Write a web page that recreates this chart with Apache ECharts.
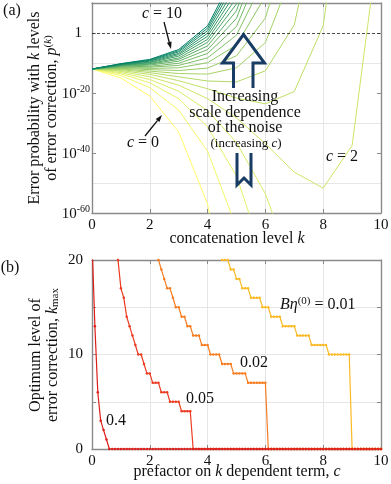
<!DOCTYPE html>
<html>
<head>
<meta charset="utf-8">
<script src="https://cdn.jsdelivr.net/npm/echarts/dist/echarts.min.js"></script>
<style>
  html, body { margin: 0; padding: 0; background: #fff; }
  #chart { width: 391px; height: 484px; }
</style>
</head>
<body>
<div id="chart"></div>
<script>
// ---- panel (a): log10 of error probability p^(k) per concatenation level k ----
var kLevels = [0, 1, 2, 3, 4, 5, 6, 7, 8, 9, 10];
var cCurves = [0, 0.5, 1, 1.5, 2, 2.5, 3, 3.5, 4, 4.5, 5, 5.5, 6, 6.5, 7, 7.5, 8, 8.5, 9, 9.5, 10];
var logErr = [
  [-12, -15, -21, -33, -57, -105],
  [-12, -14.2, -18.2, -25.7, -39.4, -64.9],
  [-12, -13.6, -16.6, -21.9, -31.3, -47.7, -76.5],
  [-12, -13.2, -15.5, -19.4, -25.9, -36.5, -53.6, -80.4],
  [-12, -12.8, -14.6, -17.4, -21.9, -28.3, -36.9, -46.4, -51.7, -37.5, 36.6],
  [-12, -12.5, -13.8, -15.9, -18.6, -21.7, -23.6, -19.5, 2.4, 71.4],
  [-12, -12.2, -13.2, -14.6, -16.0, -16.3, -12.6, 2.7, 47.0],
  [-12, -12.0, -12.7, -13.5, -13.7, -11.6, -3.2, 21.6],
  [-12, -11.8, -12.2, -12.5, -11.7, -7.6, 5.0, 38.0],
  [-12, -11.6, -11.8, -11.6, -9.9, -4.0, 12.3],
  [-12, -11.4, -11.4, -10.8, -8.3, -0.7, 18.8],
  [-12, -11.3, -11.1, -10.1, -6.8, 2.2, 24.7],
  [-12, -11.1, -10.7, -9.4, -5.5, 4.9, 30.1],
  [-12, -11.0, -10.4, -8.8, -4.3, 7.4, 35.1],
  [-12, -10.8, -10.2, -8.3, -3.1, 9.7, 39.7],
  [-12, -10.7, -9.9, -7.7, -2.1, 11.8],
  [-12, -10.6, -9.7, -7.2, -1.1, 13.8],
  [-12, -10.5, -9.4, -6.8, -0.1, 15.7],
  [-12, -10.4, -9.2, -6.3, 0.8, 17.5],
  [-12, -10.3, -9.0, -5.9, 1.6, 19.2],
  [-12, -10.2, -8.8, -5.5, 2.4, 20.8]
];
var yTicksA = [0, -20, -40, -60];

// ---- panel (b): optimum level k_max against prefactor c ----
var cGrid = [
  0.0, 0.1, 0.2, 0.3, 0.4, 0.5, 0.6, 0.7, 0.8, 0.9,
  1.0, 1.1, 1.2, 1.3, 1.4, 1.5, 1.6, 1.7, 1.8, 1.9,
  2.0, 2.1, 2.2, 2.3, 2.4, 2.5, 2.6, 2.7, 2.8, 2.9,
  3.0, 3.1, 3.2, 3.3, 3.4, 3.5, 3.6, 3.7, 3.8, 3.9,
  4.0, 4.1, 4.2, 4.3, 4.4, 4.5, 4.6, 4.7, 4.8, 4.9,
  5.0, 5.1, 5.2, 5.3, 5.4, 5.5, 5.6, 5.7, 5.8, 5.9,
  6.0, 6.1, 6.2, 6.3, 6.4, 6.5, 6.6, 6.7, 6.8, 6.9,
  7.0, 7.1, 7.2, 7.3, 7.4, 7.5, 7.6, 7.7, 7.8, 7.9,
  8.0, 8.1, 8.2, 8.3, 8.4, 8.5, 8.6, 8.7, 8.8, 8.9,
  9.0, 9.1, 9.2, 9.3, 9.4, 9.5, 9.6, 9.7, 9.8, 9.9,
  10.0
];
var kmax04 = [
  22, 13, 6, 3, 2, 1, 0, 0, 0, 0,
  0, 0, 0, 0, 0, 0, 0, 0, 0, 0,
  0, 0, 0, 0, 0, 0, 0, 0, 0, 0,
  0, 0, 0, 0, 0, 0, 0, 0, 0, 0,
  0, 0, 0, 0, 0, 0, 0, 0, 0, 0,
  0, 0, 0, 0, 0, 0, 0, 0, 0, 0,
  0, 0, 0, 0, 0, 0, 0, 0, 0, 0,
  0, 0, 0, 0, 0, 0, 0, 0, 0, 0,
  0, 0, 0, 0, 0, 0, 0, 0, 0, 0,
  0, 0, 0, 0, 0, 0, 0, 0, 0, 0,
  0
];
var kmax005 = [
  null, null, null, null, null, null, null, null, 22, 20,
  17, 16, 14, 13, 12, 11, 10, 10, 9, 8,
  8, 7, 7, 7, 6, 6, 6, 5, 5, 5,
  5, 4, 4, 4, 4, 0, 0, 0, 0, 0,
  0, 0, 0, 0, 0, 0, 0, 0, 0, 0,
  0, 0, 0, 0, 0, 0, 0, 0, 0, 0,
  0, 0, 0, 0, 0, 0, 0, 0, 0, 0,
  0, 0, 0, 0, 0, 0, 0, 0, 0, 0,
  0, 0, 0, 0, 0, 0, 0, 0, 0, 0,
  0, 0, 0, 0, 0, 0, 0, 0, 0, 0,
  0
];
var kmax002 = [
  null, null, null, null, null, null, null, null, null, null,
  null, null, null, null, null, null, null, null, null, null,
  23, 22, 21, 20, 19, 18, 17, 17, 16, 15,
  15, 14, 14, 13, 13, 12, 12, 12, 11, 11,
  11, 10, 10, 10, 10, 9, 9, 9, 9, 8,
  8, 8, 8, 8, 7, 7, 7, 7, 7, 7,
  7, 0, 0, 0, 0, 0, 0, 0, 0, 0,
  0, 0, 0, 0, 0, 0, 0, 0, 0, 0,
  0, 0, 0, 0, 0, 0, 0, 0, 0, 0,
  0, 0, 0, 0, 0, 0, 0, 0, 0, 0,
  0
];
var kmax001 = [
  null, null, null, null, null, null, null, null, null, null,
  null, null, null, null, null, null, null, null, null, null,
  null, null, null, null, null, null, null, null, null, null,
  null, null, null, null, null, null, null, null, null, null,
  23, 23, 22, 21, 21, 20, 20, 20, 19, 19,
  18, 18, 17, 17, 17, 16, 16, 16, 16, 15,
  15, 15, 14, 14, 14, 14, 13, 13, 13, 13,
  13, 12, 12, 12, 12, 12, 11, 11, 11, 11,
  11, 11, 10, 10, 10, 10, 10, 10, 10, 10,
  0, 0, 0, 0, 0, 0, 0, 0, 0, 0,
  0
];

var serif = 'Liberation Serif';
var axisGray = '#8a8a8a';
var gridGray = '#e6e6e6';
var navy = '#183c63';

// MATLAB "summer" colours, yellow (c = 0) to teal (c = 10)
function summer(i, n) {
  var r = 1 - i / (n - 1);
  return 'rgb(' + Math.round(255 * r) + ',' + Math.round(127.5 + 127.5 * r) + ',102)';
}

var chart = echarts.init(document.getElementById('chart'), null, { renderer: 'canvas' });

function boxAxis(gridIndex, pos, min, max, interval) {
  return {
    gridIndex: gridIndex, type: 'value', position: pos, min: min, max: max, interval: interval,
    axisLine: { show: true, onZero: false, lineStyle: { color: axisGray, width: 1.4 } },
    axisTick: { show: true, inside: true, length: 4, lineStyle: { color: axisGray } },
    axisLabel: { show: false },
    splitLine: { show: false }
  };
}

var xAxes = [
  {
    gridIndex: 0, type: 'value', min: 0, max: 10, interval: 2,
    axisLine: { onZero: false, lineStyle: { color: axisGray, width: 1.4 } },
    axisTick: { inside: true, length: 4, lineStyle: { color: axisGray } },
    axisLabel: { color: '#111', fontFamily: serif, fontSize: 15, margin: 5 },
    splitLine: { show: true, lineStyle: { color: gridGray, width: 1 } }
  },
  boxAxis(0, 'top', 0, 10, 2),
  {
    gridIndex: 1, type: 'value', min: 0, max: 10, interval: 2,
    axisLine: { onZero: false, lineStyle: { color: axisGray, width: 1.4 } },
    axisTick: { inside: true, length: 4, lineStyle: { color: axisGray } },
    axisLabel: { color: '#111', fontFamily: serif, fontSize: 15, margin: 5 },
    splitLine: { show: true, lineStyle: { color: gridGray, width: 1 } }
  },
  boxAxis(1, 'top', 0, 10, 2)
];

var yAxes = [
  {
    gridIndex: 0, type: 'value', min: -60, max: 10, interval: 20,
    axisLine: { onZero: false, lineStyle: { color: axisGray, width: 1.4 } },
    axisTick: { inside: true, length: 4, lineStyle: { color: axisGray } },
    axisLabel: {
      margin: 2, color: '#111',
      formatter: function(v) {
        if (yTicksA.indexOf(v) < 0) return '';
        if (v === 0) return '{o|1}';
        return '{b|10}{s|' + v + '}';
      },
      rich: {
        o: { fontFamily: serif, fontSize: 15, color: '#111', padding: [0, 8, 0, 0] },
        b: { fontFamily: serif, fontSize: 15, color: '#111', verticalAlign: 'bottom' },
        s: { fontFamily: serif, fontSize: 10, color: '#111', verticalAlign: 'top', padding: [0, 0, 8, 0] }
      }
    },
    splitLine: { show: false },
    minorTick: { show: false, splitNumber: 2 },
    minorSplitLine: { show: true, lineStyle: { color: gridGray, width: 1 } }
  },
  boxAxis(0, 'right', -60, 10, 20),
  {
    gridIndex: 1, type: 'value', min: 0, max: 20, interval: 5,
    axisLine: { onZero: false, lineStyle: { color: axisGray, width: 1.4 } },
    axisTick: { inside: true, length: 4, lineStyle: { color: axisGray } },
    axisLabel: {
      color: '#111', fontFamily: serif, fontSize: 15, margin: 9,
      formatter: function(v) { return v % 10 === 0 ? String(v) : ''; }
    },
    splitLine: { show: true, lineStyle: { color: gridGray, width: 1 } }
  },
  boxAxis(1, 'right', 0, 20, 5)
];

var series = [];
logErr.forEach(function(row, i) {
  var s = {
    type: 'line', xAxisIndex: 0, yAxisIndex: 0, silent: true, clip: true,
    symbol: 'none', z: 2,
    lineStyle: { width: 1, color: summer(i, cCurves.length) },
    data: row.map(function(v, k) { return [kLevels[k], v]; })
  };
  if (i === 0) {
    s.markLine = {
      silent: true, symbol: 'none', label: { show: false },
      lineStyle: { color: '#222', type: [3, 2], width: 0.8 },
      data: [{ yAxis: 0 }]
    };
  }
  series.push(s);
});

var panelB = [
  { name: '0.01', data: kmax001, color: '#fbb924' },
  { name: '0.02', data: kmax002, color: '#f67c20' },
  { name: '0.05', data: kmax005, color: '#ec3b20' },
  { name: '0.4', data: kmax04, color: '#dd1f1a' }
];
panelB.forEach(function(p) {
  var pts = [];
  cGrid.forEach(function(c, i) { if (p.data[i] !== null) pts.push([c, p.data[i]]); });
  series.push({
    type: 'line', name: p.name, xAxisIndex: 2, yAxisIndex: 2, silent: true, clip: true,
    symbol: 'circle', symbolSize: 2.5, showAllSymbol: true, z: 3,
    itemStyle: { color: p.color },
    lineStyle: { width: 1.2, color: p.color },
    data: pts
  });
});

function txt(x, y, text, rich, opts) {
  opts = opts || {};
  return {
    type: 'text', x: x, y: y, rotation: opts.rotation || 0, z: 10, silent: true,
    style: {
      text: text, rich: rich,
      align: opts.align || 'center', verticalAlign: 'middle',
      textAlign: opts.align || 'center', textVerticalAlign: 'middle',
      fill: opts.fill || '#111', font: (opts.size || 16) + 'px ' + serif,
      lineHeight: opts.lineHeight
    }
  };
}

var richBase = {
  a: { fontFamily: serif, fontSize: 16, color: '#111' },
  i: { fontFamily: serif, fontSize: 16, fontStyle: 'italic', color: '#111' },
  s: { fontFamily: serif, fontSize: 11, color: '#111', verticalAlign: 'top', padding: [0, 0, 7, 0] },
  si: { fontFamily: serif, fontSize: 11, fontStyle: 'italic', color: '#111', verticalAlign: 'top', padding: [0, 0, 7, 0] },
  sub: { fontFamily: serif, fontSize: 11, color: '#111', verticalAlign: 'bottom', padding: [5, 0, 0, 0] }
};
var richNavy = {
  a: { fontFamily: serif, fontSize: 16, color: navy, lineHeight: 16 },
  m: { fontFamily: serif, fontSize: 13, color: navy, lineHeight: 16 },
  mi: { fontFamily: serif, fontSize: 13, fontStyle: 'italic', color: navy, lineHeight: 16 }
};

function arrow(x1, y1, x2, y2) {
  var dx = x2 - x1, dy = y2 - y1, len = Math.sqrt(dx * dx + dy * dy);
  var ux = dx / len, uy = dy / len, bx = x2 - 7 * ux, by = y2 - 7 * uy;
  return [
    { type: 'line', silent: true, z: 10, shape: { x1: x1, y1: y1, x2: bx, y2: by }, style: { stroke: '#111', lineWidth: 1.3 } },
    { type: 'polygon', silent: true, z: 10, shape: { points: [[x2, y2], [bx - 2.4 * uy, by + 2.4 * ux], [bx + 2.4 * uy, by - 2.4 * ux]] }, style: { fill: '#111' } }
  ];
}

var graphics = [
  txt(12, 11, '(a)', richBase),
  txt(10, 268, '(b)', richBase),
  // axis titles
  txt(43, 108, '{a|Error probability with }{i|k}{a| levels}\n{a|of error correction, }{i|p}{s|(}{si|k}{s|)}', richBase, { rotation: Math.PI / 2, lineHeight: 17 }),
  txt(237, 239, '{a|concatenation level }{i|k}', richBase),
  txt(44, 355, '{a|Optimum level of}\n{a|error correction, }{i|k}{sub|max}', richBase, { rotation: Math.PI / 2, lineHeight: 17 }),
  txt(237, 472, '{a|prefactor on }{i|k}{a| dependent term, }{i|c}', richBase),
  // panel (a) annotations
  txt(162, 14, '{i|c}{a| = 10}', richBase),
  txt(143, 143, '{i|c}{a| = 0}', richBase),
  txt(342, 157, '{i|c}{a| = 2}', richBase),
  txt(245, 97, '{a|Increasing}', richNavy),
  txt(245, 112.5, '{a|scale dependence}', richNavy),
  txt(245, 128, '{a|of the noise}', richNavy),
  txt(246, 144, '{m|(increasing }{mi|c}{m|)}', richNavy),
  {
    type: 'polyline', silent: true, z: 10,
    shape: { points: [[233.5, 88], [233.5, 63], [222.5, 63], [243.5, 34.5], [264.5, 63], [253, 63], [253, 88]] },
    style: { stroke: navy, lineWidth: 3, fill: null, lineJoin: 'miter' }
  },
  {
    type: 'polyline', silent: true, z: 10,
    shape: { points: [[237, 153], [237, 185], [244, 178], [251, 185], [251, 153]] },
    style: { stroke: navy, lineWidth: 3, fill: null, lineJoin: 'miter' }
  },
  // panel (b) annotations
  txt(280, 305, '{i|Bη}{s|(0)}{a| = 0.01}', richBase, { align: 'left' }),
  txt(240, 363, '{a|0.02}', richBase, { align: 'left' }),
  txt(186, 399, '{a|0.05}', richBase, { align: 'left' }),
  txt(106, 421, '{a|0.4}', richBase, { align: 'left' })
].concat(arrow(164, 22, 171, 49), arrow(145, 136, 162, 115));

chart.setOption({
  animation: false,
  backgroundColor: '#fff',
  grid: [
    { left: 92, top: 3, width: 289, height: 210, outerBoundsMode: 'none' },
    { left: 92, top: 260, width: 289, height: 189, outerBoundsMode: 'none' }
  ],
  xAxis: xAxes,
  yAxis: yAxes,
  series: series,
  graphic: graphics
});
window.addEventListener('resize', function() { chart.resize(); });
</script>
</body>
</html>
